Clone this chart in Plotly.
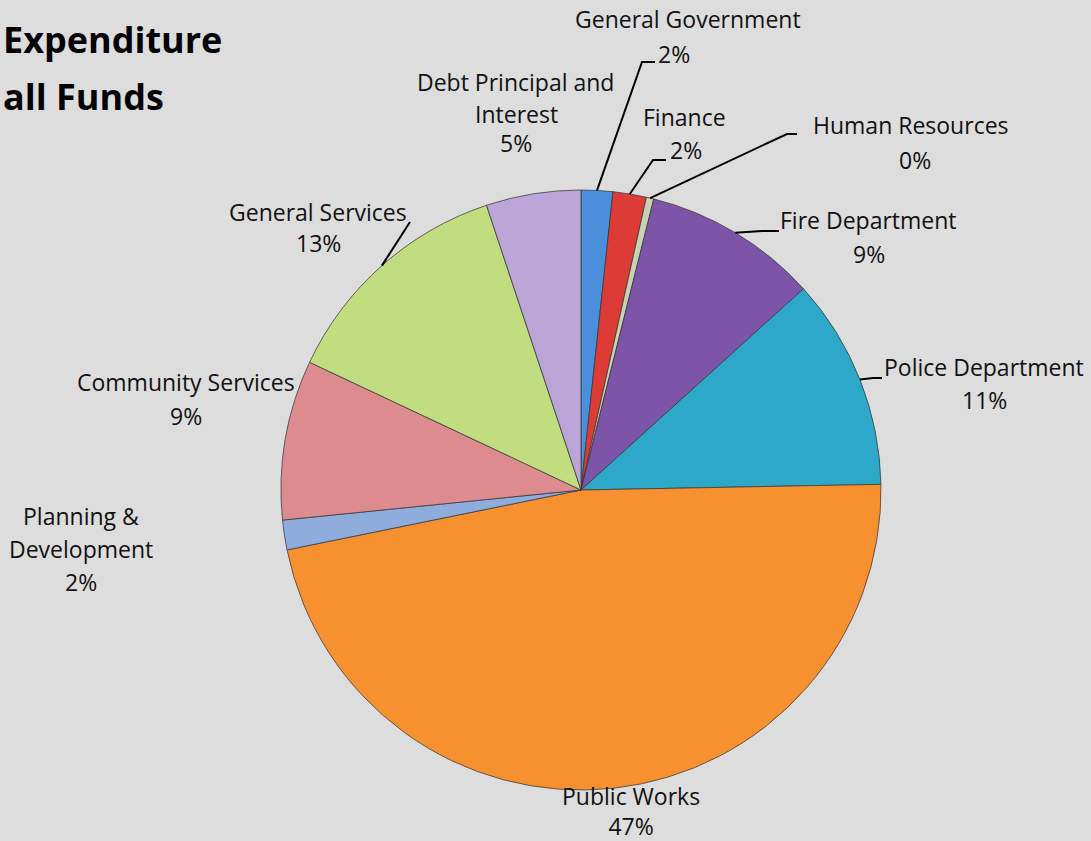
import math
import plotly.graph_objects as go

W, H = 1091, 841

# ---- data -------------------------------------------------------------
categories = [
    "General Government", "Finance", "Human Resources", "Fire Department",
    "Police Department", "Public Works", "Planning & Development",
    "Community Services", "General Services", "Debt Principal and Interest",
]
shares = [1.7, 1.8, 0.4, 9.4, 11.4, 47.1, 1.6, 8.6, 12.9, 5.1]
colors = [
    "#4a8fdc", "#dd3b35", "#c9d3b4", "#7d55a8", "#2ea8c8",
    "#f7902f", "#8eaddd", "#dc8c8f", "#c2dc80", "#bba6d7",
]

# ---- label placement (pixel centres of each text line) ------------------
# "lines": wrapped category name, "pct": where the percentage goes
# (None = set directly under the name in the same text block),
# "elbow": bend points of the leader line (None = no leader line)
label_layout = {
    "General Government": dict(lines=[("General Government", 688, 19)], pct=(674, 54),
                               elbow=[(642, 62), (655, 62)]),
    "Finance": dict(lines=[("Finance", 684, 117)], pct=(686, 150),
                    elbow=[(653, 160), (666, 160)]),
    "Human Resources": dict(lines=[("Human Resources", 911, 125)], pct=(915, 160),
                            elbow=[(787, 134), (797, 134)]),
    "Fire Department": dict(lines=[("Fire Department", 869, 220)], pct=(869, 254),
                            elbow=[(762, 231), (779, 231)]),
    "Police Department": dict(lines=[("Police Department", 984, 367)], pct=(984, 400),
                              elbow=[(873, 378), (882, 378)]),
    "Public Works": dict(lines=[("Public Works", 631, 811)], pct=None, elbow=None),
    "Planning & Development": dict(lines=[("Planning &", 81, 516), ("Development", 81, 549)],
                                   pct=(81, 582), elbow=None),
    "Community Services": dict(lines=[("Community Services", 186, 382)], pct=(186, 416),
                               elbow=None),
    "General Services": dict(lines=[("General Services", 318, 212)], pct=(318, 243),
                             elbow=[(410, 222)]),
    "Debt Principal and Interest": dict(lines=[("Debt Principal and", 515, 82), ("Interest", 516, 114)],
                                        pct=(516, 143), elbow=None),
}

# pie geometry in pixels
CX, CY, R = 581, 490, 300
FONT = "'Open Sans', Lato, sans-serif"
LABEL_FONT = dict(family=FONT, size=23, color="#111111")


def px(x):
    return x / W


def py(y):
    return 1 - y / H


def text_note(text, x, y):
    return dict(x=px(x), y=py(y), xref="paper", yref="paper", text=text,
                showarrow=False, xanchor="center", yanchor="middle",
                font=LABEL_FONT)


fig = go.Figure(go.Pie(
    labels=categories,
    values=shares,
    sort=False,
    direction="clockwise",
    rotation=0,
    marker=dict(colors=colors, line=dict(color="rgba(55,55,55,0.75)", width=1)),
    textinfo="none",
    hoverinfo="label+percent",
    showlegend=False,
    domain=dict(x=[px(CX - R), px(CX + R)], y=[py(CY + R), py(CY - R)]),
))

total = sum(shares)
annotations = []
shapes = []
cum = 0.0
for name, val in zip(categories, shares):
    mid = (cum + val / 2) / total * 2 * math.pi
    cum += val
    spec = label_layout[name]
    pct_text = f"{round(100 * val / total):.0f}%"
    lines = spec["lines"]
    if spec["pct"] is None:
        # name and percentage share one two-line block
        *head, (last, lx, ly) = lines
        lines = head + [(f"{last}<br>{pct_text}", lx, ly)]
    for text, x, y in lines:
        annotations.append(text_note(text, x, y))
    if spec["pct"] is not None:
        annotations.append(text_note(pct_text, *spec["pct"]))
    if spec["elbow"]:
        sx = CX + R * math.sin(mid)
        sy = CY - R * math.cos(mid)
        pts = [(sx, sy)] + spec["elbow"]
        path = "M " + " L ".join(f"{px(a):.5f},{py(b):.5f}" for a, b in pts)
        shapes.append(dict(type="path", path=path, xref="paper", yref="paper",
                           line=dict(color="#000000", width=2)))

# chart title, top left
annotations.append(dict(x=px(1), y=py(40), xref="paper", yref="paper",
                        text="<b>Expenditure</b>", showarrow=False,
                        xanchor="left", yanchor="middle",
                        font=dict(family=FONT, size=36, color="#000000")))
annotations.append(dict(x=px(1), y=py(96), xref="paper", yref="paper",
                        text="<b>all Funds</b>", showarrow=False,
                        xanchor="left", yanchor="middle",
                        font=dict(family=FONT, size=36, color="#000000")))

fig.update_layout(
    width=W, height=H,
    margin=dict(l=0, r=0, t=0, b=0),
    paper_bgcolor="#dddddd",
    plot_bgcolor="#dddddd",
    annotations=annotations,
    shapes=shapes,
)

fig.write_html("out.html")
